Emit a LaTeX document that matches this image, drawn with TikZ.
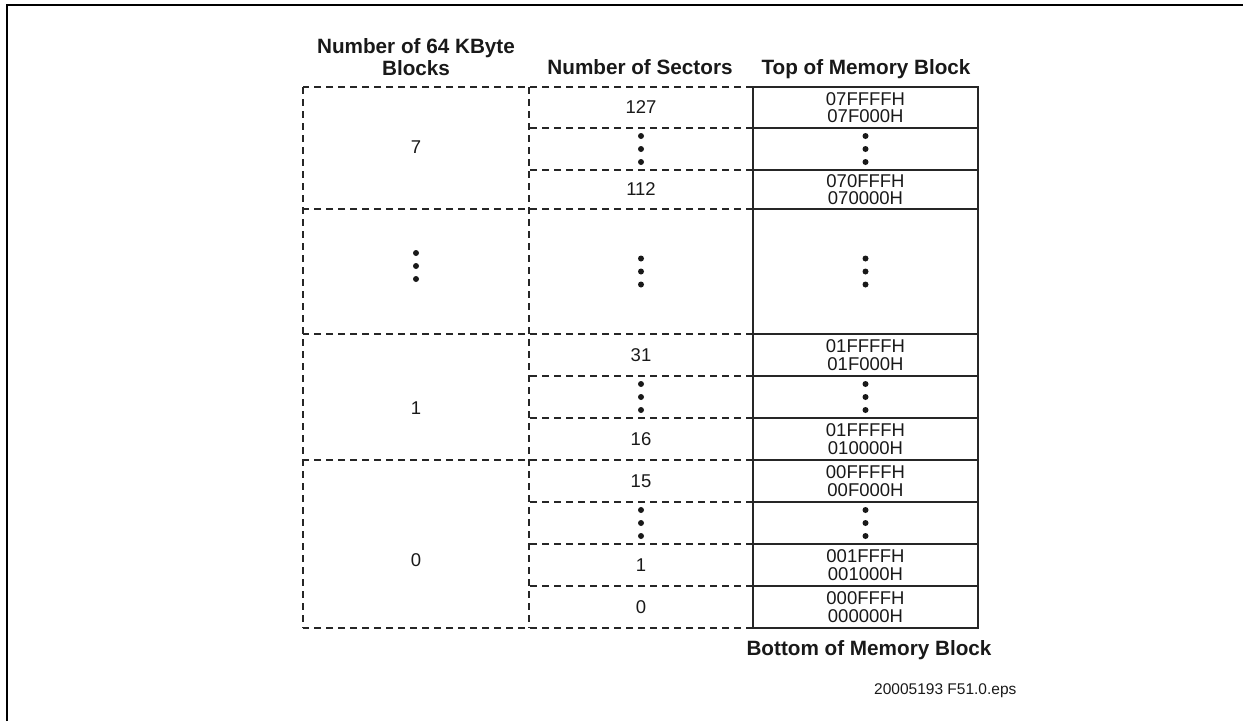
\documentclass[tikz,border=0pt]{standalone}
\usepackage{fontspec}
\setmainfont{Liberation Sans}

\begin{document}
\begin{tikzpicture}[x=1pt, y=-1pt,
    txt/.style = {font=\fontsize{18.5}{17.3}\selectfont, align=center, inner sep=0pt, text=black!90},
    head/.style = {font=\fontsize{20.7}{22}\selectfont\bfseries, align=center, inner sep=0pt, text=black!90},
    addr/.style = {txt, draw=black!85, line width=1.8pt, outer sep=0pt, minimum width=225pt, anchor=north west},
    grid/.style = {draw=black!85, line width=1.6pt, dash pattern=on 7pt off 5pt},
    dots/.pic = {\foreach \d in {-13,0,13} \fill[black!90] (0,\d) circle (3pt);}]
  \useasboundingbox (0,0) rectangle (1243,721);
  \draw[line width=2.2pt] (7,721) -- (7,5) -- (1243,5);

  % headers
  \node[head] (h1) at (416,57) {Number of 64 KByte\\Blocks};
  \node[head, anchor=base] (h2) at (640,74) {Number of Sectors};
  \node[head, anchor=base] (h3) at (866,74) {Top of Memory Block};
  \node[head, anchor=base] (h4) at (869,655) {Bottom of Memory Block};
  \node[txt, font=\fontsize{15.5}{18}\selectfont, anchor=base west] (id) at (874,694) {20005193 F51.0.eps};

  % memory blocks
  \node[addr, minimum height=41pt] (a1) at (753,87) {07FFFFH\\07F000H};
  \node[addr, minimum height=42pt] (a2) at (753,128) {};
  \node[addr, minimum height=39pt] (a3) at (753,170) {070FFFH\\070000H};
  \node[addr, minimum height=125pt] (a4) at (753,209) {};
  \node[addr, minimum height=42pt] (a5) at (753,334) {01FFFFH\\01F000H};
  \node[addr, minimum height=42pt] (a6) at (753,376) {};
  \node[addr, minimum height=42pt] (a7) at (753,418) {01FFFFH\\010000H};
  \node[addr, minimum height=42pt] (a8) at (753,460) {00FFFFH\\00F000H};
  \node[addr, minimum height=42pt] (a9) at (753,502) {};
  \node[addr, minimum height=42pt] (a10) at (753,544) {001FFFH\\001000H};
  \node[addr, minimum height=42pt] (a11) at (753,586) {000FFFH\\000000H};
  \foreach \n in {a2,a4,a6,a9} \pic at (\n) {dots};

  % sectors
  \node[txt] (s127) at (641,0 |- a1) {127};
  \node[txt] (s112) at (641,0 |- a3) {112};
  \node[txt] (s31) at (641,0 |- a5) {31};
  \node[txt] (s16) at (641,0 |- a7) {16};
  \node[txt] (s15) at (641,0 |- a8) {15};
  \node[txt] (s1) at (641,0 |- a10) {1};
  \node[txt] (s0) at (641,0 |- a11) {0};
  \foreach \n in {a2,a4,a6,a9} \pic at (641,0 |- \n) {dots};

  % 64 KByte blocks
  \node[txt] (b7) at (416,147) {7};
  \pic at (416,266) {dots};
  \node[txt] (b1) at (416,408) {1};
  \node[txt] (b0) at (416,560) {0};

  % dashed rules
  \draw[grid] (303,0 |- a1.north) -- (303,0 |- a11.south);
  \draw[grid] (529,0 |- a1.north) -- (529,0 |- a11.south);
  \foreach \n in {a1,a4,a5,a8} \draw[grid] (\n.north west) -- (303,0 |- \n.north west);
  \draw[grid] (a11.south west) -- (303,0 |- a11.south west);
  \foreach \n in {a2,a3,a6,a7,a9,a10,a11} \draw[grid] (\n.north west) -- (529,0 |- \n.north west);
\end{tikzpicture}
\end{document}
